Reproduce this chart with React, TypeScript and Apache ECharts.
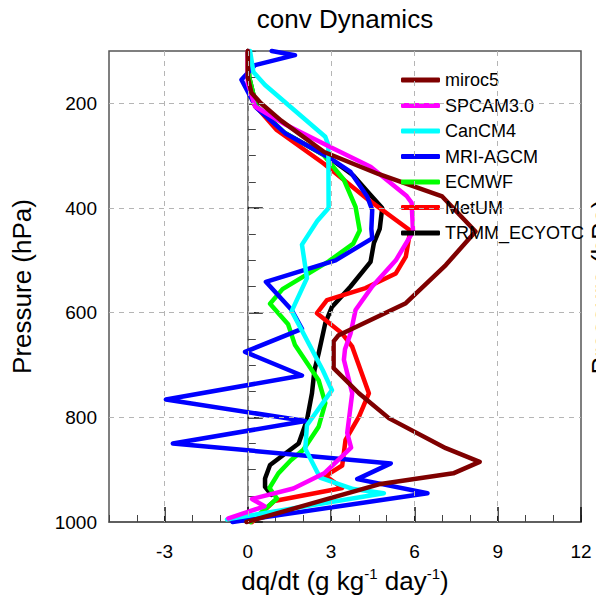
import React, { useEffect, useRef } from 'react';
import * as echarts from 'echarts';

// Axis ticks and reference lines
const xTickLabels = [-3, 0, 3, 6, 9, 12];
const yTickLabels = [200, 400, 600, 800, 1000];
const xGridValues = [-3, 0, 3, 6, 9];
const yGridValues = [200, 400, 600, 800];

// Convective moistening profiles: pressure (hPa) and dq/dt (g/kg/day)
const miroc5P = [100, 150, 180, 200, 233, 293, 335, 378, 445, 509, 582, 643, 655, 706, 754, 802, 859, 885, 907, 928, 1000];
const miroc5Q = [0.0, 0.0, 0.13, 0.47, 1.2, 2.75, 4.7, 7.0, 8.2, 7.13, 5.69, 3.27, 3.09, 3.09, 4.0, 5.09, 7.13, 8.35, 7.4, 4.72, -0.05];

const spcamP = [100, 162, 206, 241, 283, 321, 377, 390, 445, 500, 550, 595, 640, 670, 690, 754, 830, 858, 907, 936, 956, 970, 993];
const spcamQ = [0.0, 0.0, 0.26, 1.37, 2.95, 4.42, 5.72, 5.9, 5.95, 5.33, 4.48, 3.88, 3.7, 3.5, 3.46, 3.76, 3.58, 3.72, 2.75, 1.64, 0.15, 0.6, -0.7];

const cancmP = [100, 140, 165, 264, 280, 400, 425, 470, 534, 597, 710, 748, 815, 860, 915, 937, 945, 995];
const cancmQ = [0.08, 0.2, 0.62, 2.79, 2.9, 2.91, 2.5, 1.95, 2.13, 1.58, 2.7, 3.03, 2.13, 2.07, 2.6, 3.8, 4.9, -0.75];

const mriP = [100, 108, 127, 155, 208, 257, 305, 331, 378, 404, 440, 458, 500, 541, 595, 631, 675, 720, 766, 807, 850, 888, 918, 945, 1000];
const mriQ = [0.86, 1.7, 0.26, -0.23, 0.3, 1.34, 2.97, 3.7, 4.3, 4.48, 4.45, 4.48, 3.16, 0.65, 1.58, 1.95, -0.1, 1.95, -2.95, 2.07, -2.7, 5.15, 3.94, 6.47, -0.55];

const ecmwfP = [100, 150, 205, 255, 299, 346, 398, 443, 468, 502, 555, 583, 622, 662, 729, 773, 818, 862, 882, 907, 935, 955, 1000];
const ecmwfQ = [0.0, 0.05, 0.3, 1.3, 2.73, 3.46, 3.88, 4.03, 3.8, 2.91, 1.25, 0.8, 1.45, 1.7, 2.55, 2.79, 2.55, 2.0, 1.55, 1.1, 0.78, 1.05, 0.1];

const metumP = [100, 150, 200, 251, 315, 385, 443, 493, 525, 553, 576, 601, 640, 665, 754, 799, 843, 892, 912, 935, 960, 1000];
const metumQ = [0.0, 0.0, 0.2, 1.04, 2.73, 4.36, 5.85, 5.69, 5.33, 4.24, 2.85, 2.49, 3.4, 3.76, 4.36, 4.0, 3.52, 3.4, 2.8, 3.4, 0.95, 0.15];

const trmmP = [100, 150, 205, 256, 303, 338, 375, 400, 440, 467, 503, 550, 589, 620, 678, 710, 754, 805, 850, 891, 917, 933, 948];
const trmmQ = [0.0, 0.05, 0.3, 1.3, 2.9, 3.8, 4.42, 4.84, 4.75, 4.54, 4.42, 3.7, 3.03, 2.79, 2.55, 2.4, 2.31, 2.13, 1.83, 0.8, 0.62, 0.62, 0.85];

const seriesNames = ['miroc5', 'SPCAM3.0', 'CanCM4', 'MRI-AGCM', 'ECMWF', 'MetUM', 'TRMM_ECYOTC'];
const seriesColors = ['#7f0000', '#ff00ff', '#00ffff', '#0000ff', '#00ff00', '#ff0000', '#000000'];
const profiles: [number[], number[]][] = [
  [miroc5Q, miroc5P],
  [spcamQ, spcamP],
  [cancmQ, cancmP],
  [mriQ, mriP],
  [ecmwfQ, ecmwfP],
  [metumQ, metumP],
  [trmmQ, trmmP],
];

const FONT = 'Liberation Sans, Arial, Helvetica, sans-serif';

export default function App() {
  const ref = useRef<HTMLDivElement>(null);

  useEffect(() => {
    if (!ref.current) return;
    const chart = echarts.init(ref.current, undefined, { renderer: 'svg' });

    const lineSeries = profiles.map(([q, p], i) => ({
      name: seriesNames[i],
      type: 'line',
      data: q.map((v, k) => [v, p[k]]),
      showSymbol: false,
      symbol: 'none',
      clip: false,
      z: 3,
      lineStyle: { color: seriesColors[i], width: 4.5, cap: 'round', join: 'round' },
      itemStyle: { color: seriesColors[i] },
    }));
    // draw the last legend entry first so miroc5 ends up on top
    lineSeries.reverse();

    const gridSeries = {
      name: 'grid',
      type: 'line',
      data: [],
      z: 1,
      markLine: {
        silent: true,
        symbol: ['none', 'none'],
        label: { show: false },
        lineStyle: { type: [5, 5], color: '#b5b5b5', width: 1 },
        data: [
          ...xGridValues.map((v) => ({ xAxis: v })),
          ...yGridValues.map((v) => ({ yAxis: v })),
        ],
      },
    };

    const axisColor = '#555';
    const plain = (v: number) => String(v);

    chart.setOption({
      animation: false,
      backgroundColor: '#ffffff',
      textStyle: { fontFamily: FONT },
      grid: {
        left: 109,
        right: 15,
        top: 51,
        bottom: 84,
        show: true,
        borderColor: axisColor,
        borderWidth: 1.5,
        backgroundColor: 'transparent',
      },
      legend: {
        data: seriesNames,
        orient: 'vertical',
        left: 396,
        top: 66,
        itemWidth: 39,
        itemHeight: 5,
        itemGap: 7.5,
        icon: 'roundRect',
        textStyle: { fontFamily: FONT, fontSize: 18, color: '#000', lineHeight: 18 },
        selectedMode: false,
      },
      graphic: [
        {
          type: 'text',
          x: 345,
          y: 19,
          style: {
            text: 'conv Dynamics',
            font: `26px ${FONT}`,
            fill: '#000',
            textAlign: 'center',
            textVerticalAlign: 'middle',
          },
        },
        {
          type: 'text',
          x: 601,
          y: 287,
          rotation: Math.PI / 2,
          style: {
            text: 'Pressure (hPa)',
            font: `26px ${FONT}`,
            fill: '#000',
            textAlign: 'center',
            textVerticalAlign: 'middle',
          },
        },
      ],
      xAxis: [
        {
          type: 'value',
          min: -5,
          max: 12,
          interval: 1,
          position: 'bottom',
          axisLine: { show: true, lineStyle: { color: axisColor, width: 1.5 } },
          axisTick: { show: true, inside: true, length: 7, lineStyle: { color: '#444', width: 1 } },
          axisLabel: { show: false },
          splitLine: { show: false },
        },
        {
          type: 'value',
          min: -5,
          max: 12,
          position: 'bottom',
          axisLine: { show: false },
          axisTick: {
            show: true,
            inside: true,
            length: 15,
            customValues: xTickLabels,
            lineStyle: { color: '#111', width: 1.5 },
          },
          axisLabel: {
            show: true,
            customValues: xTickLabels,
            formatter: plain,
            fontSize: 19,
            color: '#000',
            margin: 20,
            fontFamily: FONT,
          },
          splitLine: { show: false },
          name: 'dq/dt (g kg{sup|-1} day{sup|-1})',
          nameLocation: 'middle',
          nameGap: 44,
          nameTextStyle: {
            fontSize: 26,
            color: '#000',
            fontFamily: FONT,
            lineHeight: 30,
            rich: {
              sup: { fontSize: 15, verticalAlign: 'top', lineHeight: 30, color: '#000', fontFamily: FONT },
            },
          },
        },
      ],
      yAxis: [
        {
          type: 'value',
          inverse: true,
          min: 100,
          max: 1000,
          interval: 50,
          position: 'left',
          axisLine: { show: true, lineStyle: { color: axisColor, width: 1.5 } },
          axisTick: { show: true, inside: true, length: 8, lineStyle: { color: '#444', width: 1 } },
          axisLabel: { show: false },
          splitLine: { show: false },
        },
        {
          type: 'value',
          inverse: true,
          min: 100,
          max: 1000,
          position: 'left',
          axisLine: { show: false },
          axisTick: {
            show: true,
            inside: true,
            length: 15,
            customValues: yTickLabels,
            lineStyle: { color: '#111', width: 1.5 },
          },
          axisLabel: {
            show: true,
            customValues: yTickLabels,
            formatter: plain,
            fontSize: 19,
            color: '#000',
            margin: 12,
            fontFamily: FONT,
          },
          splitLine: { show: false },
          name: 'Pressure (hPa)',
          nameLocation: 'middle',
          nameGap: 74,
          nameTextStyle: { fontSize: 26, color: '#000', fontFamily: FONT },
        },
      ],
      series: [gridSeries, ...lineSeries],
    });

    return () => chart.dispose();
  }, []);

  return (
    <div
      ref={ref}
      style={{ position: 'fixed', left: 0, top: 0, width: 596, height: 606, background: '#fff' }}
    />
  );
}
